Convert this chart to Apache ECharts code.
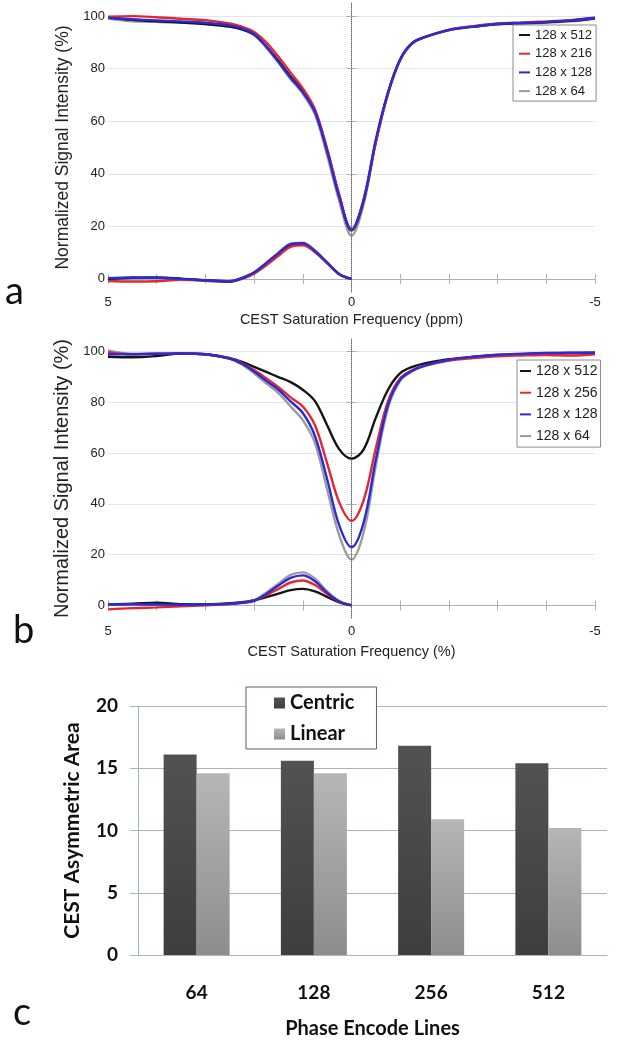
<!DOCTYPE html>
<html lang="en">
<head>
    <meta charset="UTF-8">
    <title>CEST</title>
    <script type="text/javascript" src="https://cdn.jsdelivr.net/npm/echarts/dist/echarts.min.js"></script>
    <style>
        body { margin: 0; background: #fff; }
    </style>
</head>
<body>
<div id="main" style="width: 619px;height:1050px;"></div>
<script type="text/javascript">
    // saturation offsets (ppm) for the Z-spectra and the asymmetry curves
    var freqPpm = [5, 4.5, 4, 3.5, 3, 2.5, 2.25, 2, 1.75, 1.5, 1.25, 1, 0.75, 0.5, 0.25, 0,
        -0.25, -0.5, -0.75, -1, -1.25, -1.5, -2, -2.5, -3, -3.5, -4, -4.5, -5];
    var asymPpm = [5, 4.5, 4, 3.5, 3, 2.5, 2.25, 2, 1.75, 1.5, 1.25, 1, 0.75, 0.5, 0.25, 0];
    var freqLabels = [5, 0, -5];
    var signalTicks = [0, 20, 40, 60, 80, 100];

    // panel a
    var zA512 = [99.5, 98.6, 98, 97.6, 97, 96, 95, 93, 88.5, 83, 77, 71.5, 64, 49, 31.5, 18.4,
        29.8, 52.5, 70.8, 83.5, 89.8, 92, 94.8, 96, 97, 97.3, 97.7, 98.2, 99.2];
    var zA216 = [99.8, 100, 99.6, 99, 98.5, 97.2, 96, 94, 90, 84.5, 78.5, 72.5, 64.5, 49.5, 32, 18.6,
        30, 52, 70.5, 83.3, 89.6, 92, 94.8, 96.2, 97.2, 97.6, 98, 98.5, 99.3];
    var zA128 = [99.3, 98.8, 98.4, 98, 97.5, 96.5, 95.3, 93.2, 88.5, 82.5, 76.5, 71, 63.5, 48.5, 31, 18.8,
        30.3, 53, 71, 83.6, 89.8, 92, 94.7, 96, 97, 97.4, 97.8, 98.4, 99.4];
    var zA64 = [99.2, 98, 97.8, 97.5, 97, 96, 95, 92.8, 88, 82.3, 76, 70.5, 62.5, 47, 29.5, 16.4,
        28.5, 52, 70.5, 83.3, 89.6, 91.9, 94.6, 95.9, 96.9, 97.2, 97.5, 98, 99];
    var aA512 = [0, 0.4, 0.5, 0.1, -0.5, -0.9, 0.3, 2.3, 5.8, 9.3, 12.6, 13.2, 10.3, 6, 1.8, 0];
    var aA216 = [-0.8, -1, -0.9, -0.4, -0.7, -1, 0, 2, 5.2, 8.8, 12.2, 12.8, 10.2, 6, 1.8, 0];
    var aA128 = [0.3, 0.5, 0.4, 0, -0.6, -1.1, 0.2, 2.4, 6, 9.8, 13.2, 13.6, 10.6, 6.2, 1.8, 0];
    var aA64 = [0.2, 0.3, 0.3, 0, -0.5, -0.9, 0.4, 2.5, 6.2, 10, 13.4, 13.8, 10.8, 6.3, 1.8, 0];

    // panel b
    var zB512 = [98, 97.8, 98.3, 99.3, 99, 97.4, 96, 94, 92, 90, 88, 85, 80.5, 71, 61.5, 57.8,
        61.5, 74, 85, 91.5, 94, 95.4, 97, 98, 98.7, 99, 99.3, 99.5, 99.6];
    var zB256 = [99.8, 99, 99.2, 99.3, 99, 97.4, 95.5, 92.8, 89.5, 86, 82, 78.4, 71, 56, 40.5, 33.3,
        41.5, 62, 80.5, 89.5, 92.8, 94.5, 96.5, 97.5, 98.2, 98.5, 98.7, 98.5, 99];
    var zB128 = [99, 99, 99.2, 99.3, 99, 97.3, 95.3, 92.2, 88.5, 85, 80.4, 75.8, 66.7, 49.7, 31.4, 22.9,
        32.7, 57.5, 79, 89, 92.5, 94.5, 96.8, 98, 98.8, 99.2, 99.5, 99.6, 99.6];
    var zB64 = [100.5, 99.2, 99.2, 99.3, 99, 97.2, 95, 91.5, 87.5, 83.7, 78.4, 73, 64, 45.7, 27.5, 18,
        28.8, 55, 77.8, 88.5, 92.3, 94.3, 96.6, 97.8, 98.6, 99, 99.3, 99.4, 99.5];
    var aB512 = [0.4, 0.6, 1, 0.4, 0.3, 0.8, 1.2, 2, 3.2, 4.6, 6, 6.5, 5.5, 3.3, 1.2, 0];
    var aB256 = [-1.6, -1.1, -0.8, -0.4, 0, 0.5, 1, 1.8, 4, 6.5, 9, 9.8, 8, 4.5, 1.4, 0];
    var aB128 = [0.4, 0.4, 0.3, 0.2, 0.3, 0.6, 1, 1.8, 4.5, 7.8, 10.8, 11.8, 9.5, 5, 1.5, 0];
    var aB64 = [0.3, 0.3, 0.2, 0.2, 0.3, 0.6, 1.1, 1.9, 5, 8.5, 12, 13, 10.5, 5.5, 1.7, 0];

    // panel c
    var phaseLines = ['64', '128', '256', '512'];
    var centric = [16.1, 15.6, 16.8, 15.4];
    var linear = [14.6, 14.6, 10.9, 10.2];

    var BLACK = '#151515', RED = '#e6262e', BLUE = '#2b2bd6', GRAY = '#9c9c9c';
    var FRAME = '#a7b3bc';
    var SANS = 'Liberation Sans, Arial, sans-serif';
    var CALI = 'Lato, sans-serif';

    function pairs(xs, ys) {
        return xs.map(function (x, i) { return [x, ys[i]]; });
    }

    function curve(name, xs, ys, color, idx) {
        return {
            name: name, type: 'line', xAxisIndex: idx, yAxisIndex: idx,
            data: pairs(xs, ys), showSymbol: false, smooth: 0.35,
            lineStyle: {color: color, width: 2.4}, itemStyle: {color: color},
            animation: false, silent: true
        };
    }

    function zeroLine(s) {
        s.markLine = {
            silent: true, symbol: ['none', 'none'], label: {show: false}, animation: false,
            lineStyle: {type: 'dotted', color: '#4f6070', width: 1},
            data: [{xAxis: 0}]
        };
        return s;
    }

    // bottom + top x axes, left + right y axes for the MATLAB style box
    function freqAxes(grid, title, gap, lblMargin) {
        return [{
            gridIndex: grid, type: 'value', min: -5, max: 5, interval: 1, inverse: true,
            axisLine: {lineStyle: {color: FRAME}},
            axisTick: {inside: true, length: 5, lineStyle: {color: FRAME}},
            axisLabel: {customValues: freqLabels, margin: lblMargin, fontFamily: SANS, fontSize: 13, color: '#222'},
            splitLine: {show: false},
            name: title, nameLocation: 'middle', nameGap: gap,
            nameTextStyle: {fontFamily: SANS, fontSize: 14.5, color: '#222'}
        }, {
            gridIndex: grid, type: 'value', min: -5, max: 5, interval: 1, inverse: true, position: 'top',
            axisLine: {lineStyle: {color: FRAME}},
            axisTick: {inside: true, length: 5, lineStyle: {color: FRAME}},
            axisLabel: {show: false}, splitLine: {show: false}
        }];
    }

    function signalAxes(grid, fs, gap) {
        return [{
            gridIndex: grid, type: 'value', min: -5, max: 105,
            axisLine: {show: true, lineStyle: {color: FRAME}},
            axisTick: {show: true, inside: true, length: 5, customValues: signalTicks, lineStyle: {color: FRAME}},
            axisLabel: {customValues: signalTicks, margin: 3, fontFamily: SANS, fontSize: 13, color: '#222'},
            splitLine: {show: true, lineStyle: {color: '#dce6ee'}},
            name: 'Normalized Signal Intensity (%)', nameLocation: 'middle', nameGap: gap,
            nameTextStyle: {fontFamily: SANS, fontSize: fs, color: '#222'}
        }, {
            gridIndex: grid, type: 'value', min: -5, max: 105, position: 'right',
            axisLine: {show: true, lineStyle: {color: FRAME}},
            axisTick: {show: true, inside: true, length: 5, customValues: signalTicks, lineStyle: {color: FRAME}},
            axisLabel: {show: false}, splitLine: {show: false}
        }];
    }

    function boxLegend(names, top, left, fs, lh, gap, pad) {
        return {
            data: names, orient: 'vertical', left: left, top: top, padding: pad,
            itemGap: gap, itemWidth: 11, itemHeight: 2, icon: 'rect',
            backgroundColor: '#fff', borderColor: '#8c8c8c', borderWidth: 1, borderRadius: 0,
            textStyle: {fontFamily: SANS, fontSize: fs, lineHeight: lh, color: '#222'},
            selectedMode: false
        };
    }

    var myChart = echarts.init(document.getElementById('main'), null, {renderer: 'canvas'});

    var xAxes = []
        .concat(freqAxes(0, 'CEST Saturation Frequency (ppm)', 20, 4))
        .concat(freqAxes(2, 'CEST Saturation Frequency (%)', 26, 7));
    xAxes[2].gridIndex = 1;
    xAxes[3].gridIndex = 1;
    xAxes.push({
        gridIndex: 2, type: 'category', data: phaseLines,
        axisLine: {lineStyle: {color: '#9fb7c7'}},
        axisTick: {length: 8, lineStyle: {color: '#9fb7c7'}},
        axisLabel: {margin: 28, fontFamily: CALI, fontWeight: 'bold', fontSize: 19, color: '#111'},
        name: 'Phase Encode Lines', nameLocation: 'middle', nameGap: 64,
        nameTextStyle: {fontFamily: CALI, fontWeight: 'bold', fontSize: 20, color: '#111'}
    });

    var yAxes = [].concat(signalAxes(0, 17.5, 24)).concat(signalAxes(1, 20, 24));
    yAxes[2].gridIndex = 1;
    yAxes[3].gridIndex = 1;
    yAxes.push({
        gridIndex: 2, type: 'value', min: 0, max: 20, interval: 5,
        axisLine: {show: true, lineStyle: {color: '#9fb7c7'}},
        axisTick: {show: true, length: 8, lineStyle: {color: '#9fb7c7'}},
        axisLabel: {margin: 20, fontFamily: CALI, fontWeight: 'bold', fontSize: 19, color: '#111'},
        splitLine: {lineStyle: {color: '#9fb7c7'}},
        name: 'CEST Asymmetric Area', nameLocation: 'middle', nameGap: 55,
        nameTextStyle: {fontFamily: CALI, fontWeight: 'bold', fontSize: 21, color: '#111'}
    });

    var series = [
        // panel a
        curve('128 x 64', freqPpm, zA64, GRAY, 0),
        zeroLine(curve('128 x 512', freqPpm, zA512, BLACK, 0)),
        curve('128 x 216', freqPpm, zA216, RED, 0),
        curve('128 x 128', freqPpm, zA128, BLUE, 0),
        curve('128 x 64', asymPpm, aA64, GRAY, 0),
        curve('128 x 512', asymPpm, aA512, BLACK, 0),
        curve('128 x 216', asymPpm, aA216, RED, 0),
        curve('128 x 128', asymPpm, aA128, BLUE, 0),
        // panel b
        curve('128 x 64', freqPpm, zB64, GRAY, 2),
        zeroLine(curve('128 x 512', freqPpm, zB512, BLACK, 2)),
        curve('128 x 256', freqPpm, zB256, RED, 2),
        curve('128 x 128', freqPpm, zB128, BLUE, 2),
        curve('128 x 64', asymPpm, aB64, GRAY, 2),
        curve('128 x 512', asymPpm, aB512, BLACK, 2),
        curve('128 x 256', asymPpm, aB256, RED, 2),
        curve('128 x 128', asymPpm, aB128, BLUE, 2),
        // panel c
        {
            name: 'Centric', type: 'bar', xAxisIndex: 4, yAxisIndex: 4, data: centric,
            barWidth: 33, barGap: '0%', animation: false,
            itemStyle: {color: new echarts.graphic.LinearGradient(0, 0, 0, 1, [
                {offset: 0, color: '#525252'}, {offset: 1, color: '#3e3e3e'}])}
        },
        {
            name: 'Linear', type: 'bar', xAxisIndex: 4, yAxisIndex: 4, data: linear,
            barWidth: 33, barGap: '0%', animation: false,
            itemStyle: {color: new echarts.graphic.LinearGradient(0, 0, 0, 1, [
                {offset: 0, color: '#b6b6b6'}, {offset: 1, color: '#8d8d8d'}])}
        }
    ];

    var option = {
        backgroundColor: '#fff',
        animation: false,
        grid: [
            {left: 108, top: 3, width: 487, height: 289},
            {left: 108, top: 339, width: 487, height: 279},
            {left: 138, top: 706, width: 469, height: 249}
        ],
        legend: [
            boxLegend(['128 x 512', '128 x 216', '128 x 128', '128 x 64'], 25, 513, 13, 14, 4.7, [3, 4, 3, 6]),
            boxLegend(['128 x 512', '128 x 256', '128 x 128', '128 x 64'], 360, 517, 14, 16, 5.7, [3, 3, 3, 3]),
            {
                data: ['Centric', 'Linear'], orient: 'vertical', left: 246, top: 687,
                padding: [6, 22, 5, 28], itemGap: 11, itemWidth: 11, itemHeight: 11, icon: 'rect',
                backgroundColor: '#fff', borderColor: '#6e5656', borderWidth: 1,
                textStyle: {fontFamily: CALI, fontWeight: 'bold', fontSize: 20, lineHeight: 20, color: '#111'},
                selectedMode: false
            }
        ],
        xAxis: xAxes,
        yAxis: yAxes,
        series: series,
        graphic: [
            {type: 'text', left: 5, top: 273, style: {text: 'a', font: '38px Lato', fill: '#111'}},
            {type: 'text', left: 13, top: 612, style: {text: 'b', font: '38px Lato', fill: '#111'}},
            {type: 'text', left: 13, top: 994, style: {text: 'c', font: '38px Lato', fill: '#111'}}
        ]
    };

    // 使用刚指定的配置项和数据显示图表。
    myChart.setOption(option);
</script>
</body>
</html>
